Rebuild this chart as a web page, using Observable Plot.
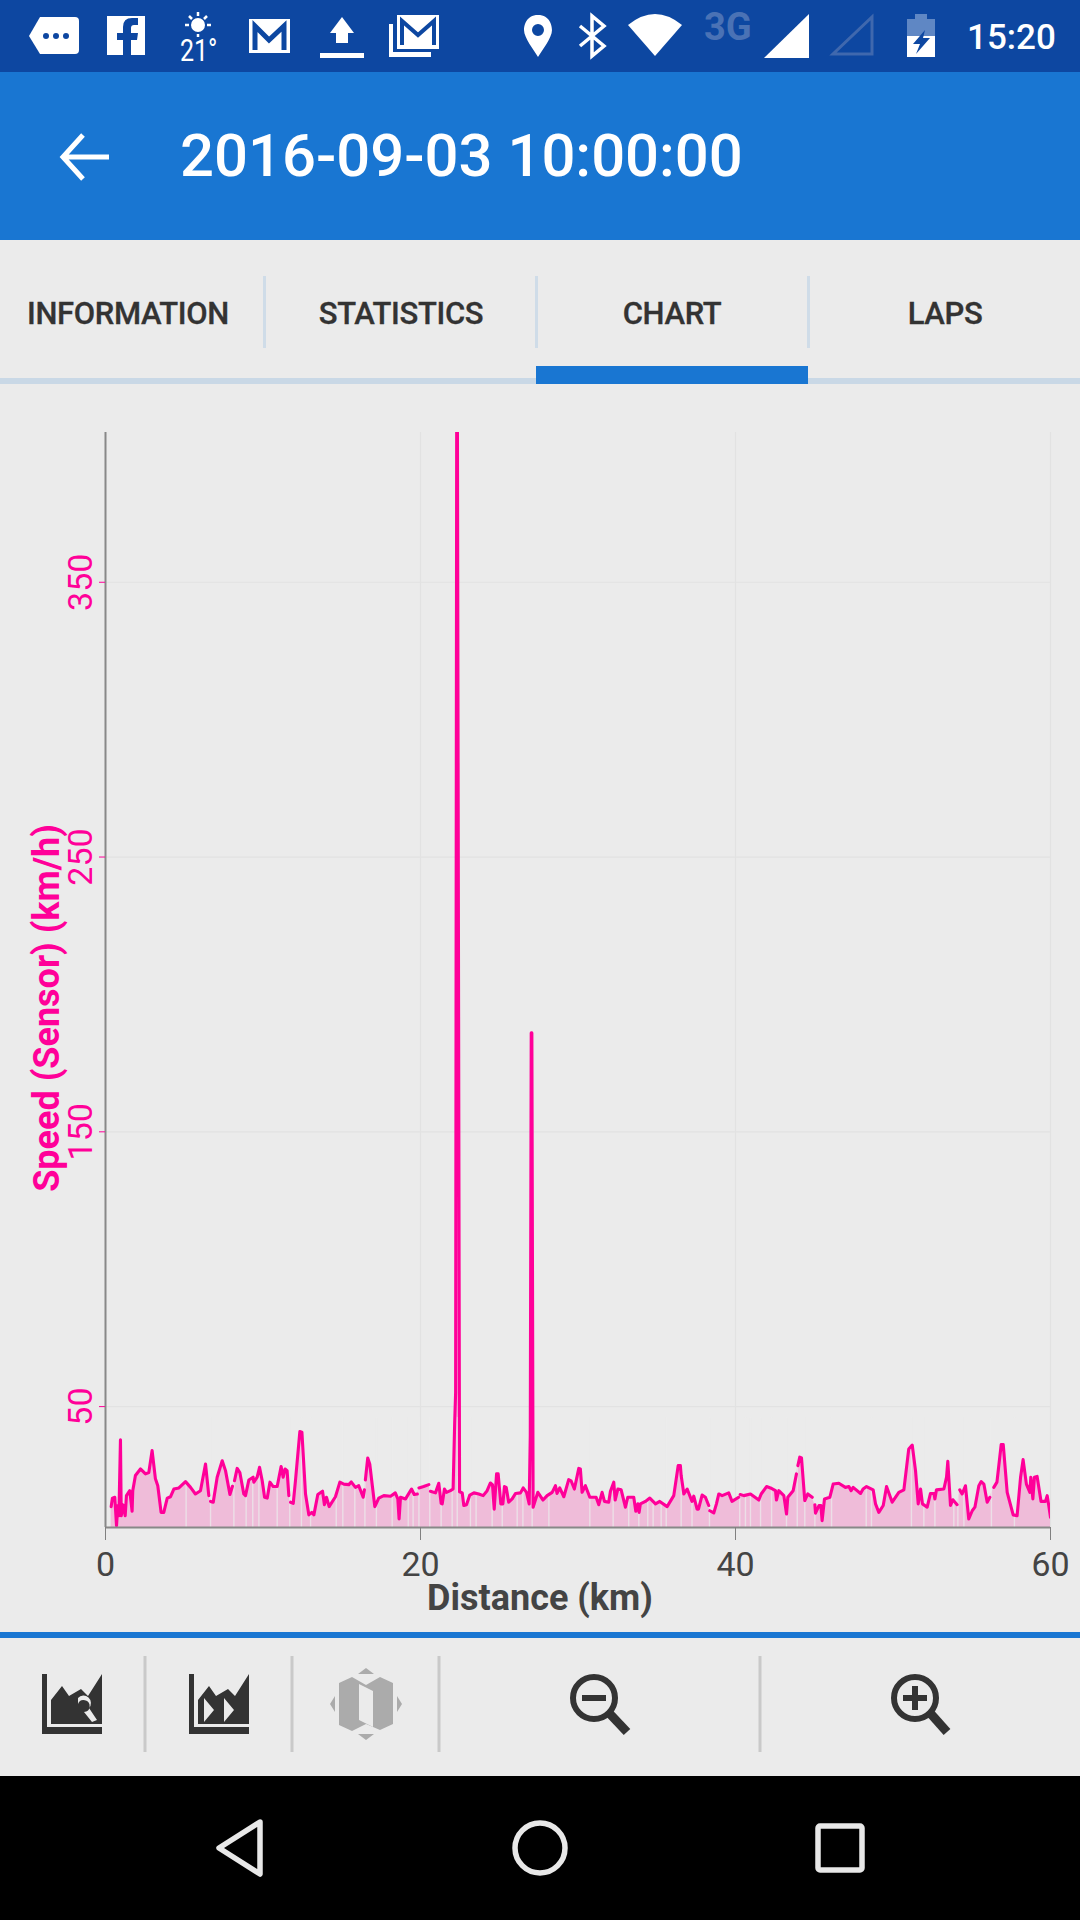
<!DOCTYPE html>
<html><head><meta charset="utf-8">
<script src="https://cdn.jsdelivr.net/npm/d3@7"></script>
<script src="https://cdn.jsdelivr.net/npm/@observablehq/plot@0.6"></script>
<style>
html,body{margin:0;padding:0;background:#ebebeb;font-family:Roboto,sans-serif;}
#page{position:relative;width:1080px;height:1920px;overflow:hidden;background:#ebebeb;}
.box,.t{position:absolute;}
.t{white-space:nowrap;line-height:1;}
.tab{font-size:31px;font-weight:500;color:#333;transform:translate(-50%,-50%);top:313px;letter-spacing:-.35px;-webkit-text-stroke:.3px #333;}
#chart{position:absolute;left:0;top:400px;}
#chrome{position:absolute;left:0;top:0;}
</style></head><body>
<div id="page">
  <div class="box" style="left:0;top:0;width:1080px;height:72px;background:#0d47a1"></div>
  <div class="box" style="left:0;top:72px;width:1080px;height:168px;background:#1976d2"></div>
  <div class="box" style="left:263px;top:276px;width:3px;height:72px;background:#cfdce8"></div>
  <div class="box" style="left:535px;top:276px;width:3px;height:72px;background:#cfdce8"></div>
  <div class="box" style="left:807px;top:276px;width:3px;height:72px;background:#cfdce8"></div>
  <div class="box" style="left:0;top:378px;width:1080px;height:6px;background:#c9d8e6"></div>
  <div class="box" style="left:536px;top:366px;width:272px;height:18px;background:#1976d2"></div>
  <div class="t" style="left:180px;top:127px;font-size:59.8px;font-weight:500;color:#fff">2016-09-03 10:00:00</div>
  <div class="t tab" style="left:128px">INFORMATION</div>
  <div class="t tab" style="left:401px">STATISTICS</div>
  <div class="t tab" style="left:672px">CHART</div>
  <div class="t tab" style="left:945px">LAPS</div>
  <div class="t" style="left:967px;top:20px;font-size:35px;font-weight:500;color:#fff">15:20</div>
  <div class="t" style="left:704px;top:8px;font-size:38px;font-weight:700;color:#4a72b5">3G</div>
  <div class="t" style="left:180px;top:35px;font-size:25px;color:#fff;transform:scaleY(1.25);transform-origin:left top">21°</div>
  <div id="chart"></div>
  <div class="box" style="left:0;top:1632px;width:1080px;height:6px;background:#1976d2"></div>
  <div class="box" style="left:0;top:1776px;width:1080px;height:144px;background:#000"></div>
  <svg id="chrome" width="1080" height="1920" viewBox="0 0 1080 1920" xmlns="http://www.w3.org/2000/svg">
    <!-- status icons -->
    <path d="M40 17H75Q79 17 79 21V50Q79 54 75 54H40L29 36Z" fill="#fff"/>
    <circle cx="46" cy="36" r="3" fill="#0d47a1"/><circle cx="56" cy="36" r="3" fill="#0d47a1"/><circle cx="66" cy="36" r="3" fill="#0d47a1"/>
    <path d="M107 16H145V55H131V40H137L138 33H131V28Q131 25 134 25H138V18H132Q123 18 123 27V33H117V40H123V55H107Z" fill="#fff"/>
    <circle cx="198" cy="25" r="7" fill="#fff"/>
    <path d="M198 12V16M198 34V37M185 25H189M207 25H211M189 16L192 19M207 16L204 19" stroke="#fff" stroke-width="2.5"/>
    <path d="M249 19H290V53H249Z" fill="#fff"/><path d="M255 50V26L269 40L284 26V50" fill="none" stroke="#0d47a1" stroke-width="5"/>
    <path d="M342 17L354 33H348V43H336V33H330Z" fill="#fff"/><rect x="320" y="53" width="44" height="5" fill="#fff"/>
    <path d="M397 15H439V49H397Z" fill="#fff"/><path d="M402 45V21L418 35L434 21V45" fill="none" stroke="#0d47a1" stroke-width="4"/>
    <path d="M389 24H393V52H431V57H389Z" fill="#fff"/>
    <path fill-rule="evenodd" d="M538 15C526 15 524 26 524 30C524 38 534 50 538 57C542 50 552 38 552 30C552 26 550 15 538 15ZM538 24A6 6 0 1 1 538 36A6 6 0 1 1 538 24Z" fill="#fff"/>
    <path d="M580 26L604 46L592 56V16L604 26L580 46" fill="none" stroke="#fff" stroke-width="3.5"/>
    <path d="M628 25Q655 3 682 25L655 56Z" fill="#fff"/>
    <path d="M809 14V58H764Z" fill="#fff"/>
    <path d="M872 17V54H833Z" fill="none" stroke="#3f68ae" stroke-width="3"/>
    <path d="M915 14H927V19H935V36H907V19H915Z" fill="#5f87c4"/>
    <path d="M907 36H935V57H907Z" fill="#fff"/><path d="M925 30L913 44H920L916 54L930 38H923Z" fill="#0d47a1"/>
    <!-- back arrow -->
    <path d="M83 135L63 157L83 179M63 157H109" fill="none" stroke="#fff" stroke-width="5"/>
    <!-- toolbar -->
    <g stroke="#c9c9c9" stroke-width="3"><path d="M145 1656V1752M292 1656V1752M439 1656V1752M760 1656V1752"/></g>
    <g fill="#333">
      <path d="M42 1674H47V1727H102V1734H42Z"/>
      <path d="M51 1724V1700L62 1686L69 1696L81 1689L88 1696L102 1674V1724Z"/>
      <path d="M189 1674H194V1727H249V1734H189Z"/>
      <path d="M198 1724V1700L209 1686L216 1696L228 1689L235 1696L249 1674V1724Z"/>
    </g>
    <path d="M78 1704A6 6 0 1 1 84 1712L92 1722L97 1720L89 1708A6 6 0 0 0 78 1698Z" fill="#ebebeb"/>
    <path d="M204 1700L214 1712L204 1724ZM224 1700L234 1712L224 1724Z" transform="translate(0,-2)" fill="#ebebeb"/>
    <g fill="#ababab">
      <path d="M339 1683L352 1677L366 1685L380 1677L393 1683V1724L380 1730L366 1724L352 1731L339 1725Z"/>
      <path d="M366 1668L374 1674H358ZM366 1740L358 1734H374ZM330 1704L335 1696V1712ZM402 1704L397 1696V1712Z"/>
    </g>
    <path d="M359 1684L373 1691V1727L359 1720Z" fill="#ebebeb"/>
    <circle cx="594" cy="1698" r="21" fill="none" stroke="#333" stroke-width="6"/>
    <path d="M582 1698H606" stroke="#333" stroke-width="6"/><path d="M610 1714L627 1732" stroke="#333" stroke-width="9"/>
    <circle cx="915" cy="1698" r="21" fill="none" stroke="#333" stroke-width="6"/>
    <path d="M903 1698H927M915 1686V1710" stroke="#333" stroke-width="6"/><path d="M931 1714L947 1732" stroke="#333" stroke-width="9"/>
    <!-- navigation -->
    <path d="M260 1822L219 1848L260 1874Z" fill="none" stroke="#e8e8e8" stroke-width="5.5" stroke-linejoin="round"/>
    <circle cx="540" cy="1848" r="25" fill="none" stroke="#e8e8e8" stroke-width="5.5"/>
    <rect x="818" y="1826" width="44" height="44" rx="2" fill="none" stroke="#e8e8e8" stroke-width="5.5"/>
  </svg>
</div>
<script>
// Distance along the ride (km)
const distanceKm = [
 .36,.44,.59,.70,.78,.85,.95,1.0,1.1,1.25,1.33,1.54,1.69,1.73,1.9,2.22,2.54,2.75,2.96,3.17,3.32,3.53,3.7,3.92,4.13,4.34,4.66,5.08,5.4,5.71,6.03,6.35,6.56,6.6,
 6.67,6.84,7.09,7.41,7.62,7.9,8.06,8.1,8.19,8.36,8.53,8.78,8.89,9.1,9.37,9.42,9.63,9.78,9.95,10.1,10.27,10.44,10.65,10.9,11.15,11.28,11.4,11.53,11.64,11.68,
 11.75,11.92,12.06,12.34,12.47,12.7,12.91,13.1,13.23,13.48,13.78,13.9,14.03,14.2,14.6,14.88,15.13,15.45,15.6,15.87,16.08,16.36,16.44,16.47,
 16.5,16.65,16.78,17.1,17.35,17.67,18.1,18.4,18.56,18.64,18.73,19.05,19.43,19.6,19.8,19.85,
 19.9,20.2,20.53,20.58,20.63,20.95,21.16,21.31,21.38,21.52,21.65,21.9,22.07,22.17,22.23,22.3,22.34,22.48,22.65,22.75,22.92,23.13,23.39,23.7,23.98,24.23,24.44,24.57,24.68,24.83,24.93,25.1,25.23,25.33,25.44,25.6,25.82,26.03,26.35,26.52,26.73,26.9,26.97,27.03,27.07,
 27.15,27.45,27.78,28.04,28.36,28.57,28.67,28.84,29.1,29.41,29.56,29.77,30.05,30.15,30.26,30.47,30.75,31.15,31.32,31.53,31.68,31.95,32.06,32.27,32.36,32.53,32.74,33.01,33.16,33.54,33.67,33.8,33.88,33.96,34.28,34.56,34.92,35.19,35.66,36.08,36.36,36.5,36.55,36.72,36.93,37.24,37.35,37.56,37.65,37.88,38.09,38.3,38.34,
 38.37,38.62,38.79,38.94,39.15,39.57,39.78,40.2,40.26,40.3,40.53,40.95,41.48,41.63,41.97,42.22,42.54,42.6,42.75,43.07,43.24,43.32,43.66,43.87,43.92,
 43.96,44.08,44.19,44.4,44.59,44.87,44.95,45.04,45.08,45.3,45.42,45.5,45.65,45.99,46.2,46.56,46.98,47.2,47.34,47.47,47.94,48.1,48.32,48.74,48.89,49.1,49.38,49.59,49.95,50.37,50.69,51,51.22,51.43,51.6,51.75,51.87,52.17,52.38,52.6,52.66,52.76,53.23,53.4,53.48,53.65,53.8,54.07,54.12,
 54.24,54.39,54.6,54.81,55.03,55.2,55.45,55.6,55.77,55.98,56.15,56.25,
 56.4,56.6,56.87,57,57.25,57.63,57.88,58.1,58.26,58.47,58.69,58.75,58.88,58.98,59.15,59.4,59.68,59.79,59.89,60
];
// Speed reading at each distance (km/h); null = sensor dropout
const speedKmh = [
 13.6,16.7,17,6.7,14,10.3,37.9,10.3,14.3,10.3,17.6,19.4,11.9,19.4,24.9,27.3,25.5,26,34,23.7,21.2,11.5,11.5,16.7,17.2,20,20.4,22.7,20.6,18.2,19.4,29.1,17.6,null,
 15.5,15.2,24.3,30.3,26.7,18,21,null,23,27.5,26,18.2,17.6,23.3,24.3,22.5,24.3,27.9,23,17,16.7,22.5,20.9,20.9,28.2,24.3,27.3,26.7,17.6,null,
 15.2,14.8,23,40.9,40.7,18.2,10.6,11.5,10.6,18,19.2,14.3,17,13.6,17.2,22.5,21.8,21.6,22.6,20.6,21.2,17,19.7,null,
 23.3,31.3,29,13.6,16.7,17.6,17.4,18.6,16.4,9.1,17,16.4,20,18,18.2,null,
 20.4,20.9,21.6,null,19.2,18.6,22.1,14.8,14.6,20,18.8,19.4,20,44,55,420,420,19,18.6,14,14.3,17.8,18.6,18.2,17.6,19.4,22.2,21.6,12.7,25.5,25.5,14.6,14.6,20.9,20.6,15.2,16.4,18.4,18.6,20.4,18.8,14.6,39.4,186,186,
 13.4,18.8,16,17.6,18.8,21.2,18.4,20.4,17.2,23.4,23,20,27.5,27.3,18.8,21.2,17,17,14.3,18.8,15.5,15.2,19.2,22.5,16,20,19.7,13.4,17,17,11.9,14.6,11.5,14.6,15.5,16.7,14.6,15.5,13.6,17.6,28.5,28.5,24.9,18.2,20,15.5,17.4,12.7,12.7,17.8,17,14,null,
 12.1,11.3,14.6,18.2,17.6,18.6,15.5,17,null,18,17.6,18.2,16,18.2,20.9,20.4,19.4,16,19.4,17.6,10.9,17,19.4,25.5,null,
 28.5,31.6,31.3,15.8,18.2,17,null,14.3,11.2,14,14,8.5,16.4,17,21.8,22.1,20.6,20.9,19.4,20.6,18.4,20,20.9,19.7,14.6,11.5,14,20.9,15.2,18.8,19.7,34.6,36,26.7,14.6,20,14.6,13.4,18.4,18.4,16.4,19.7,20,24.3,30.1,14,16.1,14.3,null,
 19.7,18.2,21.2,9.1,12.1,13.4,21.2,22.7,21.8,15.2,17,null,
 20.6,22.5,36.2,36.2,18.8,10.6,10.3,24.3,30.7,21.8,18.8,24.3,16.4,24.3,24.6,15.5,15.5,17.6,14,9.7
];
// Thin dropouts visible in the filled area (km)
const dropoutKm = [5.12,6.67,8.15,8.93,9.35,9.74,10.9,11.7,12.44,13.02,14.65,15.07,15.83,16.47,17.2,18.2,19.22,19.53,19.9,20.59,21.31,22.01,22.33,23.17,23.53,24.55,25.19,26.14,26.5,27.09,28.15,30.75,32.23,33.22,33.86,34.43,34.77,35.28,35.6,36.55,37.24,38.35,40.27,40.63,40.95,41.59,42.29,43.24,43.92,44.4,45.04,46.1,48.3,48.63,51.17,51.96,52.66,53.86,54.12,54.5,56.25,57.71];
const xTicks = [0,20,40,60];
const yTicks = [50,150,250,350];
const yFloor = 6, yCeil = 404.5;

const records = distanceKm.map((km,i)=>({km,speed:speedKmh[i]}));
const filled = records.filter(d=>d.speed!=null);
const pink = "#ff0099";

const chart = Plot.plot({
  width:1080, height:1232,
  marginTop:32, marginBottom:105, marginLeft:105, marginRight:30,
  style:{background:"transparent",fontFamily:"Roboto, sans-serif",overflow:"visible"},
  x:{domain:[0,60]},
  y:{domain:[yFloor,yCeil]},
  marks:[
    Plot.ruleX(xTicks,{stroke:"#e2e2e2",strokeWidth:1.2}),
    Plot.ruleY(yTicks,{stroke:"#e2e2e2",strokeWidth:1.2}),
    Plot.areaY(filled,{x:"km",y1:yFloor,y2:"speed",fill:"#efbcd9",clip:true}),
    Plot.ruleX(dropoutKm,{y1:yFloor,y2:46,stroke:"#ebebeb",strokeOpacity:.75,strokeWidth:1.4}),
    Plot.line(records,{x:"km",y:"speed",stroke:pink,strokeWidth:3.1,clip:true,curve:"linear"}),
    Plot.ruleX([0],{stroke:"#888",strokeWidth:2}),
    Plot.ruleY([yFloor],{stroke:"#888",strokeWidth:2}),
    Plot.axisX({ticks:xTicks,tickSize:13,tickPadding:11,fontSize:34,color:"#444",stroke:"#808080",label:null,fill:"#444"}),
    Plot.axisY({ticks:yTicks,tickSize:6,tickPadding:8,fontSize:34,tickRotate:-90,color:pink,label:null}),
    Plot.text(["Distance (km)"],{frameAnchor:"bottom",dy:82,dx:-38,fontSize:36,fontWeight:700,fill:"#444"}),
    Plot.text(["Speed (Sensor) (km/h)"],{frameAnchor:"left",textAnchor:"middle",rotate:-90,dx:-58,dy:28,fontSize:36,fontWeight:700,fill:pink})
  ]
});
document.getElementById("chart").appendChild(chart);
</script>
</body></html>
